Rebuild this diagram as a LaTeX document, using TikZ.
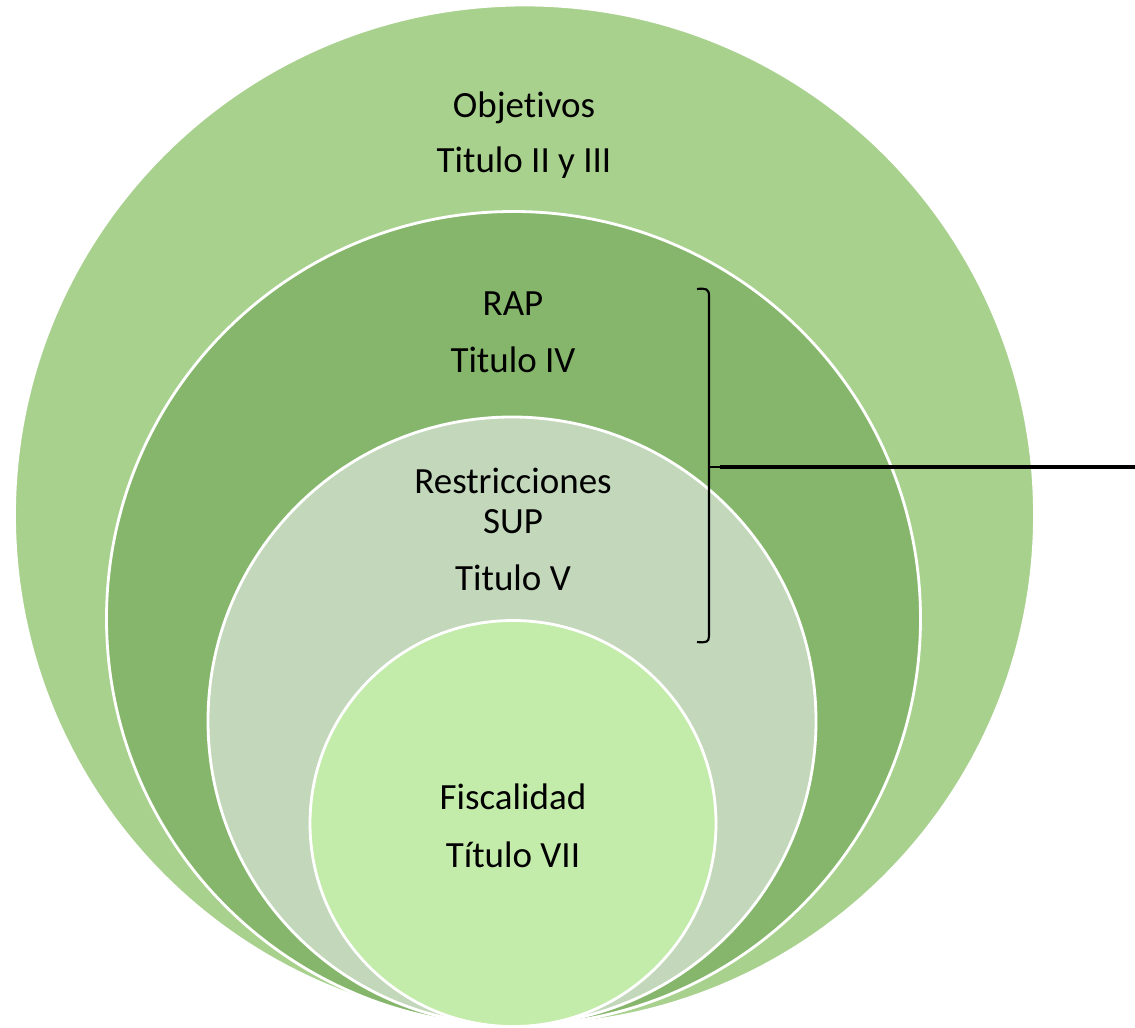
\documentclass[tikz,border=0pt]{standalone}
\usepackage{fontspec}
\setmainfont{Carlito}[Ligatures=NoCommon]
\usetikzlibrary{positioning,calc}

\definecolor{verdeA}{HTML}{A9D18E}
\definecolor{verdeB}{HTML}{86B66B}
\definecolor{verdeC}{HTML}{C3D7BB}
\definecolor{verdeD}{HTML}{C3EBAA}

\begin{document}
\begin{tikzpicture}[x=0.025cm, y=0.025cm,
    ring/.style = {draw = white, line width = 2pt},
    rotulo/.style = {anchor = base, inner sep = 0pt, font = \fontsize{26.3}{31}\selectfont}]

    \useasboundingbox (0, 0) rectangle (1135, 1027);

    % circulos
    \draw [ring, fill = verdeA] (524.5, 512) circle (510);
    \draw [ring, fill = verdeB] (513.5, 408.5) circle (407);
    \draw [ring, fill = verdeC] (512, 306) circle (304);
    \draw [ring, fill = verdeD] (513, 203.5) circle (203);

    % textos
    \node [rotulo] (obj) at (524, 909) {Objetivos};
    \node [rotulo] (tit2) at (524, 854) {Titulo II y III};
    \node [rotulo] (rap) at (513, 711) {RAP};
    \node [rotulo] (tit4) at (513, 654) {Titulo IV};
    \node [rotulo] (res) at (513, 533) {Restricciones};
    \node [rotulo] (sup) at (513, 493) {SUP};
    \node [rotulo] (tit5) at (513, 437) {Titulo V};
    \node [rotulo] (fis) at (513, 218) {Fiscalidad};
    \node [rotulo] (tit7) at (513, 160) {Título VII};

    % corchete
    \coordinate (brk) at (709, 560);
    \coordinate (fin) at (1135, 560);
    \draw [line width = 1.5pt] (697, 738) .. controls (706, 739) and (709, 738) .. (709, 731)
        -- (709, 391) .. controls (709, 385) and (706, 384) .. (697, 385);
    \draw [line width = 1.5pt] (brk) -- ++(11, 0);
    \draw [line width = 3pt] ($(brk) + (11, 0)$) -- (fin);

\end{tikzpicture}
\end{document}
